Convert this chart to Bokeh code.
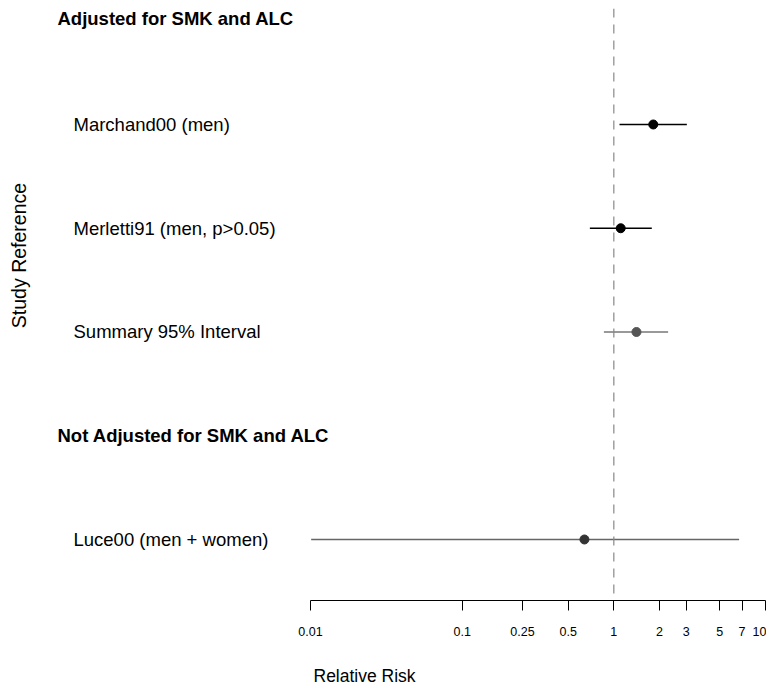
import math
from bokeh.plotting import figure
from bokeh.models import Range1d, FixedTicker, Span, Label, CustomJSTickFormatter, ColumnDataSource, Title
from bokeh.embed import file_html
from bokeh.resources import INLINE

# ---- data ----
studies = ["Marchand00 (men)", "Merletti91 (men, p>0.05)", "Summary 95% Interval", "Luce00 (men + women)"]
row_y = [5, 4, 3, 1]
rr = [1.82, 1.11, 1.41, 0.64]
ci_lo = [1.09, 0.695, 0.86, 0.0101]
ci_hi = [3.03, 1.78, 2.28, 6.7]
headers = ["Adjusted for SMK and ALC", "Not Adjusted for SMK and ALC"]
header_y = [6.02, 2.0]
tick_values = [0.01, 0.1, 0.25, 0.5, 1, 2, 3, 5, 7, 10]
point_colors = ["#000000", "#000000", "#555555", "#333333"]
line_colors = ["#000000", "#000000", "#777777", "#666666"]
x_title = "Relative Risk"
y_title = "Study Reference"

FONT = "Liberation Sans"
FS = "18.5px"

p = figure(
    frame_width=758, frame_height=592,
    x_axis_type="log",
    x_range=Range1d(10 ** -3.9912, 10 ** 1.0066),
    y_range=Range1d(0.412, 6.118),
    output_backend="svg", toolbar_location=None,
    min_border_left=8, min_border_right=0, min_border_top=8, min_border_bottom=0,
)
p.yaxis.visible = False
p.xgrid.visible = False
p.ygrid.visible = False
p.outline_line_color = None

ax = p.xaxis[0]
ax.bounds = (0.01, 10)
ax.ticker = FixedTicker(ticks=tick_values, minor_ticks=[])
ax.formatter = CustomJSTickFormatter(code="return tick.toString();")
ax.major_tick_out = 10
ax.major_tick_in = 0
ax.minor_tick_out = 0
ax.minor_tick_in = 0
ax.axis_line_color = "black"
ax.major_tick_line_color = "black"
ax.major_label_standoff = 16
ax.major_label_text_font = FONT
ax.major_label_text_font_size = "12.5px"
ax.major_label_text_color = "black"

# x-axis title, placed under the axis (left-aligned with an offset)
p.add_layout(Title(text=x_title, align="left", offset=305, standoff=50,
                   text_font=FONT, text_font_size="17.5px", text_font_style="normal",
                   text_color="black"), "below")

# reference line
p.add_layout(Span(location=1, dimension="height", line_color="#888888",
                  line_width=1.2, line_dash="9 7"))

src = ColumnDataSource(dict(y=row_y, rr=rr, lo=ci_lo, hi=ci_hi, pc=point_colors, lc=line_colors))
p.segment(x0="lo", x1="hi", y0="y", y1="y", line_color="lc", line_width=1.5, source=src)
p.scatter(x="rr", y="y", size=9, fill_color="pc", line_color="pc", source=src)

for s, y in zip(studies, row_y):
    p.add_layout(Label(x=65, y=y, x_units="screen", y_units="data", text=s,
                       text_font=FONT, text_font_size=FS, text_baseline="middle",
                       text_align="left", text_color="black"))
for h, y in zip(headers, header_y):
    p.add_layout(Label(x=49, y=y, x_units="screen", y_units="data", text=h,
                       text_font=FONT, text_font_size=FS, text_font_style="bold",
                       text_baseline="middle", text_align="left", text_color="black"))

p.add_layout(Label(x=10, y=3.737, x_units="screen", y_units="data", text=y_title,
                   angle=math.pi / 2, text_font=FONT, text_font_size="19.5px",
                   text_baseline="middle", text_align="center", text_color="black"))

open("out.html", "w").write(file_html(p, INLINE))
